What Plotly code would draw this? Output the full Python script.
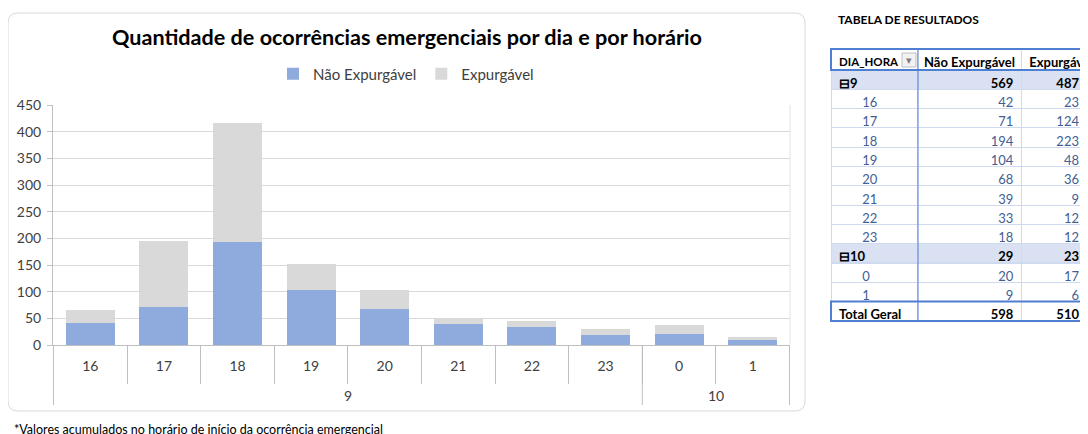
import plotly.graph_objects as go

# a página tem margem de 8 px no body: a figura começa em (8, 8)
OFF = 8
W, H = 1088 - OFF, 434 - OFF

dias = ["9", "10"]
horas_por_dia = [["16", "17", "18", "19", "20", "21", "22", "23"], ["0", "1"]]
horas = horas_por_dia[0] + horas_por_dia[1]
nao_expurgavel = [42, 71, 194, 104, 68, 39, 33, 18, 20, 9]
expurgavel = [23, 124, 223, 48, 36, 9, 12, 12, 17, 6]

AZUL = "#8FAADC"
CINZA = "#D9D9D9"
FONTE = "Lato, sans-serif"
TEXTO = "#404040"
EIXO = "#BFBFBF"


def px_x(v):
    return (v - OFF) / W


def px_y(v):
    return 1 - (v - OFF) / H


fig = go.Figure()

fig.add_trace(go.Bar(
    x=horas, y=nao_expurgavel, name="Não Expurgável",
    marker=dict(color=AZUL, line=dict(width=0)),
))
fig.add_trace(go.Bar(
    x=horas, y=expurgavel, name="Expurgável",
    marker=dict(color=CINZA, line=dict(width=0)),
))

# ---- tabela dinâmica ----
n1 = len(horas_por_dia[0])
linhas = [dias[0]] + horas_por_dia[0] + [dias[1]] + horas_por_dia[1]
grupo = [True] + [False] * n1 + [True] + [False] * len(horas_por_dia[1])
col_nao = [sum(nao_expurgavel[:n1])] + nao_expurgavel[:n1] + [sum(nao_expurgavel[n1:])] + nao_expurgavel[n1:]
col_exp = [sum(expurgavel[:n1])] + expurgavel[:n1] + [sum(expurgavel[n1:])] + expurgavel[n1:]

negrito = grupo + [True]
rot = [("⊟" + lab) if g else lab for lab, g in zip(linhas, grupo)] + ["Total\u00a0Geral"]
v_nao = [str(v) for v in col_nao] + [str(sum(nao_expurgavel))]
v_exp = [str(v) for v in col_exp] + [str(sum(expurgavel))]

# camada normal (linhas de hora) e camada em negrito (totais), sobrepostas
n_c1 = ["" if b else "\u00a0" * 7 + lab for lab, b in zip(rot, negrito)]
n_c2 = ["" if b else v for v, b in zip(v_nao, negrito)]
n_c3 = ["" if b else v for v, b in zip(v_exp, negrito)]
b_c1 = [lab if b else "" for lab, b in zip(rot, negrito)]
b_c2 = [v if b else "" for v, b in zip(v_nao, negrito)]
b_c3 = [v if b else "" for v, b in zip(v_exp, negrito)]

fill = ["#D9E1F2" if g else "white" for g in grupo] + ["white"]
cor = ["black" if g else "#3F5E94" for g in grupo] + ["black"]

TAB_X0, TAB_TOP = 831, 49
HEAD_H, ROW_H = 21, 19.3
COLW = [87, 104, 66]
LINHA = "#CFDAEE"
dominio = dict(x=[px_x(TAB_X0), 1], y=[0, px_y(TAB_TOP)])
cabecalho = ["DIA_HORA", "Não\u00a0Expurgável", "Expurgável"]
fonte_cab = dict(family=FONTE, size=[11.5, 13, 13], color="black", weight=700)

fig.add_trace(go.Table(
    domain=dominio, columnwidth=COLW,
    header=dict(
        values=cabecalho, align=["left", "center", "left"], height=HEAD_H,
        fill_color="white", line=dict(color=LINHA, width=1), font=fonte_cab,
    ),
    cells=dict(
        values=[n_c1, n_c2, n_c3], align=["left", "right", "right"], height=ROW_H,
        fill_color=[fill, fill, fill], line=dict(color=LINHA, width=1),
        font=dict(family=FONTE, size=13, color=[cor, cor, cor]),
    ),
))
fig.add_trace(go.Table(
    domain=dominio, columnwidth=COLW,
    header=dict(
        values=["", "", ""], align=["left", "center", "left"], height=HEAD_H,
        fill_color="rgba(0,0,0,0)", line=dict(color="rgba(0,0,0,0)", width=1), font=fonte_cab,
    ),
    cells=dict(
        values=[b_c1, b_c2, b_c3], align=["left", "right", "right"], height=ROW_H,
        fill_color="rgba(0,0,0,0)", line=dict(color="rgba(0,0,0,0)", width=1),
        font=dict(family=FONTE, size=13, color="black", weight=700),
    ),
))

tab_bottom = TAB_TOP + HEAD_H + ROW_H * len(rot)
col1_x = TAB_X0 + COLW[0]
AZUL_TAB = "#4F7FD0"

# limites dos grupos de dia no eixo de categorias
limites = [-0.5, n1 - 0.5, len(horas) - 0.5]
centros = [(limites[i] + limites[i + 1]) / 2 for i in range(len(dias))]


def caixa_arredondada(x0, y0, x1, y1, r):
    rx, ry = r / W, r / H
    a, b, c, d = px_x(x0), px_x(x1), px_y(y1), px_y(y0)
    return (f"M{a + rx},{d} L{b - rx},{d} Q{b},{d} {b},{d - ry} "
            f"L{b},{c + ry} Q{b},{c} {b - rx},{c} L{a + rx},{c} Q{a},{c} {a},{c + ry} "
            f"L{a},{d - ry} Q{a},{d} {a + rx},{d} Z")


shapes = [
    # moldura do gráfico
    dict(type="path", xref="paper", yref="paper", path=caixa_arredondada(8, 13, 805, 411, 10),
         line=dict(color="#D9D9D9", width=1), layer="below"),
    # borda direita da área de plotagem
    dict(type="line", xref="x domain", yref="y domain", x0=1, x1=1, y0=0, y1=1,
         line=dict(color="#E3E3E3", width=1)),
    # cabeçalho da tabela
    dict(type="rect", xref="paper", yref="paper",
         x0=px_x(TAB_X0), x1=px_x(1095), y0=px_y(TAB_TOP + HEAD_H), y1=px_y(TAB_TOP),
         line=dict(color=AZUL_TAB, width=2)),
    # linha do total
    dict(type="rect", xref="paper", yref="paper",
         x0=px_x(TAB_X0), x1=px_x(1095), y0=px_y(tab_bottom), y1=px_y(tab_bottom - ROW_H),
         line=dict(color=AZUL_TAB, width=2)),
    # divisória vertical da tabela
    dict(type="line", xref="paper", yref="paper",
         x0=px_x(col1_x), x1=px_x(col1_x), y0=px_y(tab_bottom), y1=px_y(TAB_TOP),
         line=dict(color=AZUL_TAB, width=1)),
    # botão de filtro
    dict(type="rect", xref="paper", yref="paper",
         x0=px_x(col1_x - 16), x1=px_x(col1_x - 2), y0=px_y(TAB_TOP + 18), y1=px_y(TAB_TOP + 4),
         fillcolor="#F2F2F2", line=dict(color=EIXO, width=1)),
]
# divisórias entre os dias
for xb in limites:
    shapes.append(dict(type="line", xref="x", yref="paper", x0=xb, x1=xb,
                       y0=px_y(405), y1=px_y(345), line=dict(color=EIXO, width=1)))

annotations = [
    dict(text="▾", xref="paper", yref="paper", x=px_x(col1_x - 9), y=px_y(TAB_TOP + 11),
         showarrow=False, font=dict(size=11, color="#7F7F7F"), xanchor="center", yanchor="middle"),
    dict(text="<b>TABELA DE RESULTADOS</b>", xref="paper", yref="paper",
         x=px_x(836), y=px_y(20), xanchor="left", yanchor="middle", showarrow=False,
         font=dict(family=FONTE, size=12, color="black")),
    dict(text="*Valores acumulados no horário de início da ocorrência emergencial",
         xref="paper", yref="paper", x=px_x(12), y=px_y(429), xanchor="left", yanchor="middle",
         showarrow=False, font=dict(family=FONTE, size=12.5, color="black")),
]
for d, xc in zip(dias, centros):
    annotations.append(dict(text=d, xref="x", yref="paper", x=xc, y=px_y(395),
                            xanchor="center", yanchor="middle", showarrow=False,
                            font=dict(family=FONTE, size=14, color=TEXTO)))

fig.update_layout(
    width=W, height=H,
    margin=dict(l=0, r=0, t=0, b=0),
    paper_bgcolor="white", plot_bgcolor="white",
    font=dict(family=FONTE, color=TEXTO),
    barmode="stack", bargap=0.335,
    title=dict(text="Quantidade de ocorrências emergenciais por dia e por horário",
               x=px_x(407), xanchor="center", y=px_y(37), yanchor="middle",
               font=dict(family=FONTE, size=21.6, color="black", weight="bold")),
    legend=dict(orientation="h", x=px_x(406), xanchor="center", y=px_y(74), yanchor="middle",
                traceorder="normal", font=dict(size=15, color=TEXTO)),
    xaxis=dict(domain=[px_x(53), px_x(790)], anchor="y", type="category",
               showline=True, linecolor=EIXO, linewidth=1,
               ticks="outside", tickson="boundaries", ticklen=38, tickcolor=EIXO,
               ticklabelstandoff=8,
               tickfont=dict(size=14, color=TEXTO), automargin=False),
    yaxis=dict(domain=[px_y(345), px_y(105)], range=[0, 450], dtick=50,
               showgrid=True, gridcolor="#D9D9D9", zeroline=False,
               showline=True, linecolor=EIXO, ticks="outside", ticklen=5,
               tickcolor=EIXO, ticklabelstandoff=3,
               tickfont=dict(size=14, color=TEXTO), automargin=False),
    shapes=shapes,
    annotations=annotations,
)

fig.write_html("out.html")
